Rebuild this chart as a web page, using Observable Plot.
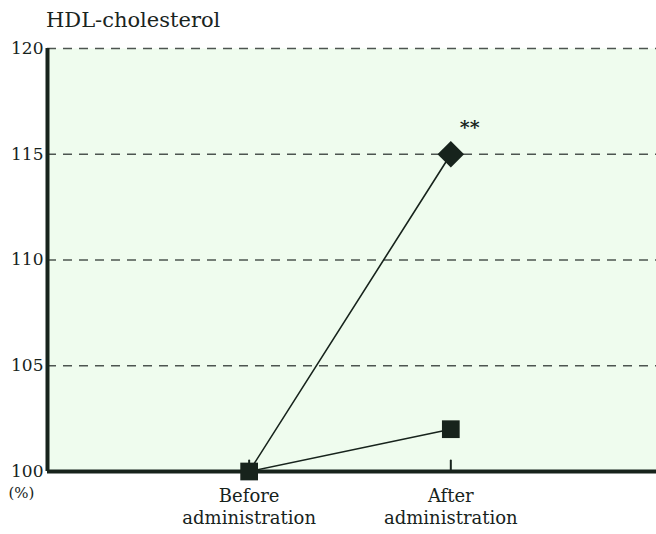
<!DOCTYPE html>
<html>
<head>
<meta charset="utf-8">
<script src="https://cdn.jsdelivr.net/npm/d3@7"></script>
<script src="https://cdn.jsdelivr.net/npm/@observablehq/plot@0.6"></script>
<style>
  body { margin: 0; background: #fff; }
  #title { height: 34px; font-family: "DejaVu Serif", serif; font-size: 21px; color: #1a241e; padding-left: 46px; line-height: 40px; box-sizing: border-box; }
</style>
</head>
<body>
<div id="title">HDL-cholesterol</div>
<div id="chart"></div>
<script>
const categories = ["Before\nadministration", "After\nadministration"];
const seriesDiamond = [100, 115];
const seriesSquare = [100, 102];
const yTicks = [100, 105, 110, 115, 120];
const gridLines = [105, 110, 115, 120];
const significance = "**";

const ink = "#17231c";
const rows = (vals, name) => vals.map((v, i) => ({i, v, name}));
const dia = rows(seriesDiamond, "diamond");
const sq = rows(seriesSquare, "square");
const idx = categories.map((c, i) => i);

const tickShape = { draw(ctx, l) { ctx.moveTo(0, 0); ctx.lineTo(0, -l); } };

const chart = Plot.plot({
  width: 656,
  height: 500,
  marginTop: 14,
  marginBottom: 63,
  marginLeft: 47,
  marginRight: 0,
  style: { fontFamily: "'DejaVu Serif', serif", fontSize: "17px", color: ink, background: "transparent" },
  x: { domain: [-1, 2.02], axis: null, label: null },
  y: { domain: [100, 120], axis: null, label: null },
  marks: [
    Plot.frame({ fill: "#effcee", stroke: null }),
    Plot.ruleY(gridLines, { stroke: "#4d5550", strokeWidth: 1.6, strokeDasharray: "9,7" }),
    Plot.axisY(yTicks, { tickSize: 0, tickPadding: 4, fontSize: 17, fill: ink, label: null }),
    Plot.text(["(%)"], { frameAnchor: "bottom-left", dx: -39, dy: 26, fontSize: 15, fill: ink }),
    Plot.axisX(idx, { tickSize: 0, tickPadding: 16, tickFormat: i => categories[i], fontSize: 18, fill: ink, lineHeight: 1.17, label: null }),
    Plot.vector(idx, { x: d => d, y: 100, length: 11, anchor: "start", shape: tickShape, stroke: ink, strokeWidth: 2 }),
    Plot.ruleY([100], { stroke: ink, strokeWidth: 4 }),
    Plot.ruleX([-1], { stroke: ink, strokeWidth: 4 }),
    Plot.line(dia, { x: "i", y: "v", stroke: ink, strokeWidth: 1.6 }),
    Plot.line(sq, { x: "i", y: "v", stroke: ink, strokeWidth: 1.6 }),
    Plot.dot(dia, { filter: d => d.i > 0, x: "i", y: "v", symbol: "square", rotate: 45, r: 10.6, fill: ink, stroke: "none" }),
    Plot.dot(sq, { x: "i", y: "v", symbol: "square", r: 10, fill: ink, stroke: "none" }),
    Plot.text([dia[1]], { x: "i", y: "v", text: () => significance, dx: 19, dy: -26, fontSize: 19, fontWeight: "bold", fill: ink })
  ]
});
document.getElementById("chart").appendChild(chart);
</script>
</body>
</html>
